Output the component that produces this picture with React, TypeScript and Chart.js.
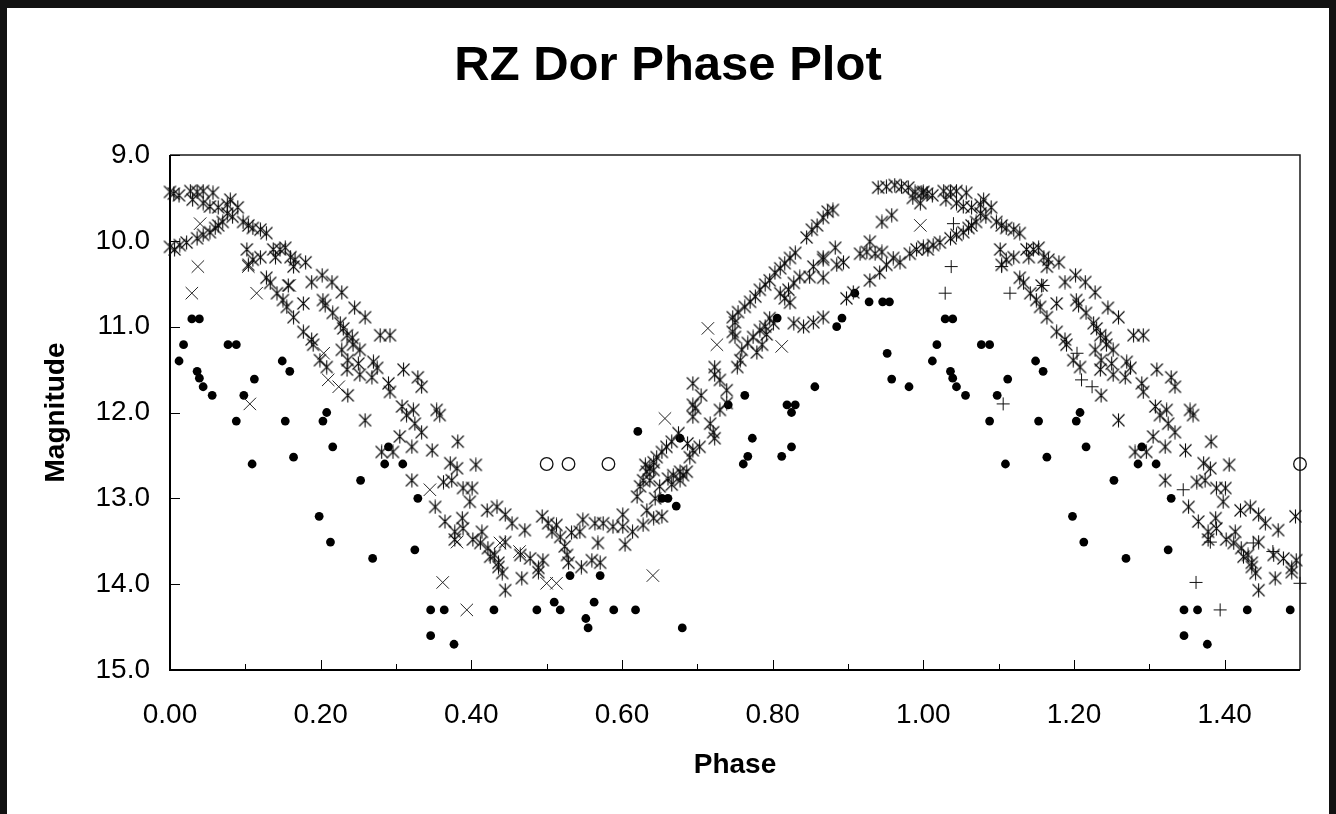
import React, { useEffect, useRef } from 'react';
import { Chart, registerables } from 'chart.js';

Chart.register(...registerables);

const FONT = '"Liberation Sans", Arial, Helvetica, sans-serif';

// ---------- Data (phase, magnitude) ----------
// Filled circles, phase 0..1
const dotsCycle: [number, number][] = [
  [0.012, 11.4], [0.018, 11.21], [0.029, 10.91], [0.039, 10.91], [0.036, 11.52], [0.039, 11.6],
  [0.044, 11.7], [0.056, 11.8], [0.077, 11.21], [0.088, 11.21], [0.098, 11.8], [0.088, 12.1],
  [0.109, 12.6], [0.112, 11.61], [0.149, 11.4], [0.153, 12.1], [0.159, 11.52], [0.164, 12.52],
  [0.198, 13.21], [0.203, 12.1], [0.208, 12.0], [0.213, 13.51], [0.216, 12.4], [0.253, 12.79],
  [0.269, 13.7], [0.285, 12.6], [0.29, 12.4], [0.309, 12.6], [0.325, 13.6], [0.329, 13.0],
  [0.346, 14.3], [0.346, 14.6], [0.364, 14.3], [0.377, 14.7], [0.43, 14.3], [0.487, 14.3],
  [0.51, 14.21], [0.518, 14.3], [0.531, 13.9], [0.552, 14.4], [0.555, 14.51], [0.563, 14.21],
  [0.571, 13.9], [0.589, 14.3], [0.618, 14.3], [0.621, 12.22], [0.653, 13.0], [0.661, 13.0],
  [0.672, 13.09], [0.677, 12.3], [0.68, 14.51], [0.741, 11.91], [0.761, 12.6], [0.763, 11.8],
  [0.767, 12.51], [0.773, 12.3], [0.806, 10.9], [0.812, 12.51], [0.819, 11.91], [0.825, 12.0],
  [0.825, 12.4], [0.83, 11.91], [0.856, 11.7], [0.885, 11.0], [0.892, 10.9], [0.909, 10.61],
  [0.928, 10.71], [0.946, 10.71], [0.952, 11.31], [0.955, 10.71], [0.958, 11.61], [0.981, 11.7],
];
// Filled circles, repeated phase 1..1.5
const dotsRepeat: [number, number][] = [
  [1.012, 11.4], [1.018, 11.21], [1.029, 10.91], [1.039, 10.91], [1.036, 11.52], [1.039, 11.6],
  [1.044, 11.7], [1.056, 11.8], [1.077, 11.21], [1.088, 11.21], [1.098, 11.8], [1.088, 12.1],
  [1.109, 12.6], [1.112, 11.61], [1.149, 11.4], [1.153, 12.1], [1.159, 11.52], [1.164, 12.52],
  [1.198, 13.21], [1.203, 12.1], [1.208, 12.0], [1.213, 13.51], [1.216, 12.4], [1.253, 12.79],
  [1.269, 13.7], [1.285, 12.6], [1.29, 12.4], [1.309, 12.6], [1.325, 13.6], [1.329, 13.0],
  [1.346, 14.3], [1.346, 14.6], [1.364, 14.3], [1.377, 14.7], [1.43, 14.3], [1.487, 14.3],
];

// Asterisks, phase 0..1
const starsCycle: [number, number][] = [
  [0.0, 9.43], [0.005, 9.45], [0.012, 9.47], [0.027, 9.42], [0.036, 9.43], [0.044, 9.42], [0.057, 9.44],
  [0.03, 9.52], [0.044, 9.56], [0.053, 9.6], [0.064, 9.61], [0.076, 9.58], [0.08, 9.52], [0.09, 9.61],
  [0.076, 9.68], [0.083, 9.72], [0.097, 9.78], [0.104, 9.82], [0.11, 9.85], [0.12, 9.87], [0.128, 9.91],
  [0.0, 10.07], [0.006, 10.1], [0.013, 10.05], [0.022, 10.02], [0.036, 9.97], [0.044, 9.93], [0.053, 9.9],
  [0.06, 9.85], [0.064, 9.82], [0.07, 9.78],
  [0.102, 10.1], [0.11, 10.22], [0.104, 10.28], [0.12, 10.19], [0.137, 10.1], [0.14, 10.19], [0.146, 10.1],
  [0.153, 10.08], [0.16, 10.19], [0.164, 10.3], [0.166, 10.22], [0.18, 10.25],
  [0.128, 10.43], [0.133, 10.49], [0.142, 10.61], [0.15, 10.69], [0.155, 10.77], [0.164, 10.89], [0.157, 10.52],
  [0.177, 10.73], [0.188, 10.48], [0.202, 10.4], [0.215, 10.48], [0.228, 10.6], [0.203, 10.69], [0.206, 10.75],
  [0.216, 10.84], [0.226, 10.96], [0.23, 11.02], [0.235, 11.1], [0.242, 11.13], [0.243, 11.21], [0.252, 11.27],
  [0.245, 10.78], [0.259, 10.89], [0.177, 11.06], [0.188, 11.15], [0.19, 11.21], [0.199, 11.39], [0.208, 11.47],
  [0.228, 11.27], [0.236, 11.39], [0.25, 11.43], [0.235, 11.5], [0.252, 11.56], [0.27, 11.41], [0.275, 11.48],
  [0.279, 11.1], [0.292, 11.1], [0.268, 11.59], [0.29, 11.66], [0.292, 11.76], [0.31, 11.5], [0.329, 11.59],
  [0.334, 11.7], [0.236, 11.8], [0.308, 11.93], [0.323, 11.97], [0.354, 11.97], [0.259, 12.09], [0.314, 12.03],
  [0.325, 12.13], [0.334, 12.23], [0.358, 12.03], [0.305, 12.28], [0.321, 12.4], [0.281, 12.46], [0.296, 12.46],
  [0.348, 12.44], [0.382, 12.34], [0.372, 12.59], [0.381, 12.65], [0.406, 12.61], [0.321, 12.79], [0.363, 12.81],
  [0.374, 12.79], [0.389, 12.88], [0.401, 12.88], [0.398, 13.04], [0.352, 13.1], [0.365, 13.27], [0.388, 13.23],
  [0.389, 13.35], [0.378, 13.39], [0.378, 13.48], [0.402, 13.48], [0.414, 13.39], [0.412, 13.52], [0.422, 13.58],
  [0.431, 13.66], [0.436, 13.75], [0.441, 13.87], [0.445, 14.07], [0.421, 13.14], [0.434, 13.1], [0.445, 13.19],
  [0.445, 13.51], [0.454, 13.29], [0.425, 13.68], [0.436, 13.8], [0.465, 13.66], [0.467, 13.93], [0.471, 13.37],
  [0.478, 13.7], [0.489, 13.81], [0.489, 13.86], [0.495, 13.72], [0.494, 13.21],
  [0.502, 13.29], [0.507, 13.39], [0.513, 13.31], [0.518, 13.45], [0.524, 13.56], [0.527, 13.66], [0.529, 13.75],
  [0.533, 13.4], [0.544, 13.39], [0.548, 13.25], [0.546, 13.8], [0.56, 13.72], [0.564, 13.29], [0.568, 13.52],
  [0.575, 13.29], [0.571, 13.75], [0.588, 13.33], [0.601, 13.19], [0.601, 13.33], [0.604, 13.54], [0.614, 13.39],
  [0.628, 13.31], [0.633, 13.14], [0.642, 13.23], [0.653, 13.21], [0.62, 12.98], [0.624, 12.86], [0.628, 12.79],
  [0.633, 12.69], [0.637, 12.65], [0.642, 12.58], [0.646, 12.52], [0.653, 12.46], [0.659, 12.4], [0.666, 12.34],
  [0.675, 12.24], [0.681, 12.73], [0.677, 12.79], [0.644, 13.0], [0.65, 12.86], [0.661, 12.77], [0.668, 12.73],
  [0.631, 12.61], [0.642, 12.67], [0.637, 12.79], [0.666, 12.84], [0.677, 12.69], [0.686, 12.69], [0.694, 12.44],
  [0.703, 12.4], [0.687, 12.36], [0.69, 12.52], [0.694, 12.05], [0.697, 11.95], [0.717, 12.13], [0.721, 12.23],
  [0.723, 12.3], [0.73, 11.97], [0.739, 11.89], [0.694, 11.66], [0.705, 11.8], [0.694, 11.91], [0.723, 11.47],
  [0.723, 11.56], [0.73, 11.62], [0.739, 11.74], [0.747, 11.06], [0.75, 11.12], [0.753, 11.47], [0.757, 11.39],
  [0.759, 11.27], [0.767, 11.19], [0.774, 11.12], [0.779, 11.3], [0.783, 11.04], [0.786, 11.21], [0.79, 11.0],
  [0.792, 11.09], [0.796, 10.9], [0.801, 10.96], [0.81, 10.61], [0.816, 10.67], [0.823, 10.72], [0.821, 10.57],
  [0.828, 10.49], [0.836, 10.42], [0.849, 10.42], [0.854, 10.3], [0.867, 10.19], [0.828, 10.96], [0.841, 11.0],
  [0.854, 10.95], [0.867, 10.89], [0.747, 10.89], [0.75, 10.95], [0.754, 10.83], [0.763, 10.77], [0.77, 10.71],
  [0.777, 10.65], [0.783, 10.57], [0.79, 10.51], [0.796, 10.46], [0.803, 10.37], [0.81, 10.32], [0.816, 10.26],
  [0.823, 10.2], [0.83, 10.14], [0.845, 9.96], [0.852, 9.87], [0.859, 9.82], [0.867, 9.73], [0.873, 9.66],
  [0.88, 9.64], [0.867, 10.22], [0.883, 10.08], [0.885, 10.28], [0.894, 10.25], [0.867, 10.43], [0.898, 10.67],
  [0.907, 10.6], [0.916, 10.15], [0.925, 10.13], [0.929, 10.01], [0.936, 10.15], [0.945, 10.13], [0.929, 10.46],
  [0.942, 10.37], [0.951, 10.28], [0.96, 10.2], [0.969, 10.25], [0.982, 10.15], [0.991, 10.1], [0.945, 9.78],
  [0.958, 9.7], [0.94, 9.38], [0.951, 9.37], [0.962, 9.35], [0.971, 9.37], [0.98, 9.38], [0.989, 9.43],
  [0.998, 9.44], [0.986, 9.5], [0.996, 9.56],
];
// Asterisks, repeated phase 1..1.5
const starsRepeat: [number, number][] = [
  [1.0, 9.43], [1.005, 9.45], [1.012, 9.47], [1.027, 9.42], [1.036, 9.43], [1.044, 9.42], [1.057, 9.44],
  [1.03, 9.52], [1.044, 9.56], [1.053, 9.6], [1.064, 9.61], [1.076, 9.58], [1.08, 9.52], [1.09, 9.61],
  [1.076, 9.68], [1.083, 9.72], [1.097, 9.78], [1.104, 9.82], [1.11, 9.85], [1.12, 9.87], [1.128, 9.91],
  [1.0, 10.07], [1.006, 10.1], [1.013, 10.05], [1.022, 10.02], [1.036, 9.97], [1.044, 9.93], [1.053, 9.9],
  [1.06, 9.85], [1.064, 9.82], [1.07, 9.78],
  [1.102, 10.1], [1.11, 10.22], [1.104, 10.28], [1.12, 10.19], [1.137, 10.1], [1.14, 10.19], [1.146, 10.1],
  [1.153, 10.08], [1.16, 10.19], [1.164, 10.3], [1.166, 10.22], [1.18, 10.25],
  [1.128, 10.43], [1.133, 10.49], [1.142, 10.61], [1.15, 10.69], [1.155, 10.77], [1.164, 10.89], [1.157, 10.52],
  [1.177, 10.73], [1.188, 10.48], [1.202, 10.4], [1.215, 10.48], [1.228, 10.6], [1.203, 10.69], [1.206, 10.75],
  [1.216, 10.84], [1.226, 10.96], [1.23, 11.02], [1.235, 11.1], [1.242, 11.13], [1.243, 11.21], [1.252, 11.27],
  [1.245, 10.78], [1.259, 10.89], [1.177, 11.06], [1.188, 11.15], [1.19, 11.21], [1.199, 11.39], [1.208, 11.47],
  [1.228, 11.27], [1.236, 11.39], [1.25, 11.43], [1.235, 11.5], [1.252, 11.56], [1.27, 11.41], [1.275, 11.48],
  [1.279, 11.1], [1.292, 11.1], [1.268, 11.59], [1.29, 11.66], [1.292, 11.76], [1.31, 11.5], [1.329, 11.59],
  [1.334, 11.7], [1.236, 11.8], [1.308, 11.93], [1.323, 11.97], [1.354, 11.97], [1.259, 12.09], [1.314, 12.03],
  [1.325, 12.13], [1.334, 12.23], [1.358, 12.03], [1.305, 12.28], [1.321, 12.4], [1.281, 12.46], [1.296, 12.46],
  [1.348, 12.44], [1.382, 12.34], [1.372, 12.59], [1.381, 12.65], [1.406, 12.61], [1.321, 12.79], [1.363, 12.81],
  [1.374, 12.79], [1.389, 12.88], [1.401, 12.88], [1.398, 13.04], [1.352, 13.1], [1.365, 13.27], [1.388, 13.23],
  [1.389, 13.35], [1.378, 13.39], [1.378, 13.48], [1.402, 13.48], [1.414, 13.39], [1.412, 13.52], [1.422, 13.58],
  [1.431, 13.66], [1.436, 13.75], [1.441, 13.87], [1.445, 14.07], [1.421, 13.14], [1.434, 13.1], [1.445, 13.19],
  [1.445, 13.51], [1.454, 13.29], [1.425, 13.68], [1.436, 13.8], [1.465, 13.66], [1.467, 13.93], [1.471, 13.37],
  [1.478, 13.7], [1.489, 13.81], [1.489, 13.86], [1.495, 13.72], [1.494, 13.21],
];

// Diagonal crosses, phase 0..1
const crossesCycle: [number, number][] = [
  [0.04, 9.8], [0.037, 10.3], [0.029, 10.61], [0.104, 10.3], [0.115, 10.61], [0.159, 10.52], [0.106, 11.9],
  [0.204, 11.31], [0.21, 11.62], [0.224, 11.7], [0.345, 12.9], [0.362, 13.98], [0.381, 13.51], [0.394, 14.3],
  [0.438, 13.52], [0.464, 13.62], [0.5, 13.99], [0.513, 13.99], [0.641, 13.9], [0.657, 12.07], [0.714, 11.02],
  [0.726, 11.21], [0.812, 11.23], [0.996, 9.82],
];
// Plus signs, repeated phase 1..1.5
const plusRepeat: [number, number][] = [
  [1.04, 9.8], [1.037, 10.3], [1.029, 10.61], [1.104, 10.3], [1.115, 10.61], [1.159, 10.52], [1.106, 11.9],
  [1.204, 11.31], [1.21, 11.62], [1.224, 11.7], [1.345, 12.9], [1.362, 13.98], [1.381, 13.51], [1.394, 14.3],
  [1.438, 13.52], [1.464, 13.62], [1.5, 13.99],
];
// Open circles
const openCycle: [number, number][] = [[0.5, 12.6], [0.529, 12.6], [0.582, 12.6]];
const openRepeat: [number, number][] = [[1.5, 12.6]];

// Axis ticks
const xMajorTicks = [0, 0.2, 0.4, 0.6, 0.8, 1.0, 1.2, 1.4];
const xMinorTicks = [0.1, 0.3, 0.5, 0.7, 0.9, 1.1, 1.3];
const yTicks = [9, 10, 11, 12, 13, 14, 15];

const toXY = (arr: [number, number][]) => arr.map(([x, y]) => ({ x, y }));

function makeAsterisk(): HTMLCanvasElement {
  const c = document.createElement('canvas');
  c.width = 15;
  c.height = 15;
  const g = c.getContext('2d')!;
  g.strokeStyle = '#0a0a0a';
  g.lineWidth = 1.1;
  g.beginPath();
  g.moveTo(1.5, 1.5); g.lineTo(13.5, 13.5);
  g.moveTo(13.5, 1.5); g.lineTo(1.5, 13.5);
  g.moveTo(7.5, 0.5); g.lineTo(7.5, 14.5);
  g.stroke();
  return c;
}

const framePlugin = {
  id: 'frame',
  beforeDatasetsDraw(chart: any) {
    const { ctx, chartArea: a, scales } = chart;
    const xs = scales.x;
    const ys = scales.y;
    ctx.save();
    ctx.strokeStyle = '#1a1a1a';
    ctx.lineWidth = 1.5;
    ctx.beginPath();
    ctx.moveTo(a.left, a.top);
    ctx.lineTo(a.right, a.top);
    ctx.lineTo(a.right, a.bottom);
    ctx.stroke();
    ctx.strokeStyle = '#000';
    ctx.lineWidth = 2;
    ctx.beginPath();
    ctx.moveTo(a.left, a.top);
    ctx.lineTo(a.left, a.bottom);
    ctx.lineTo(a.right, a.bottom);
    ctx.stroke();
    ctx.lineWidth = 1;
    ctx.beginPath();
    for (const v of yTicks) {
      const py = Math.round(ys.getPixelForValue(v)) + 0.5;
      ctx.moveTo(a.left, py);
      ctx.lineTo(a.left + 10, py);
    }
    for (const v of xMajorTicks) {
      const px = Math.round(xs.getPixelForValue(v)) + 0.5;
      ctx.moveTo(px, a.bottom);
      ctx.lineTo(px, a.bottom - 10);
    }
    for (const v of xMinorTicks) {
      const px = Math.round(xs.getPixelForValue(v)) + 0.5;
      ctx.moveTo(px, a.bottom);
      ctx.lineTo(px, a.bottom - 6);
    }
    ctx.stroke();
    ctx.restore();
  },
};

export default function App() {
  const ref = useRef<HTMLCanvasElement | null>(null);

  useEffect(() => {
    if (!ref.current) return;
    const asterisk = makeAsterisk();
    const common = { showLine: false, clip: false as any };
    const chart = new Chart(ref.current, {
      type: 'scatter',
      data: {
        datasets: [
          {
            label: 'Asterisks', data: toXY(starsCycle), pointStyle: asterisk as any, pointRadius: 6,
            ...common,
          },
          {
            label: 'Asterisks (repeat)', data: toXY(starsRepeat), pointStyle: asterisk as any, pointRadius: 6,
            ...common,
          },
          {
            label: 'Crosses', data: toXY(crossesCycle), pointStyle: 'crossRot', pointRadius: 8.8,
            pointBorderColor: '#222', pointBorderWidth: 1, ...common,
          },
          {
            label: 'Plus', data: toXY(plusRepeat), pointStyle: 'cross', pointRadius: 6.5,
            pointBorderColor: '#111', pointBorderWidth: 1, ...common,
          },
          {
            label: 'Dots', data: toXY(dotsCycle), pointStyle: 'circle', pointRadius: 4.4,
            pointBackgroundColor: '#000', pointBorderColor: '#000', pointBorderWidth: 0, ...common,
          },
          {
            label: 'Dots (repeat)', data: toXY(dotsRepeat), pointStyle: 'circle', pointRadius: 4.4,
            pointBackgroundColor: '#000', pointBorderColor: '#000', pointBorderWidth: 0, ...common,
          },
          {
            label: 'Open', data: toXY(openCycle), pointStyle: 'circle', pointRadius: 6.3,
            pointBackgroundColor: 'rgba(255,255,255,0)', pointBorderColor: '#111', pointBorderWidth: 1.3, ...common,
          },
          {
            label: 'Open (repeat)', data: toXY(openRepeat), pointStyle: 'circle', pointRadius: 6.3,
            pointBackgroundColor: 'rgba(255,255,255,0)', pointBorderColor: '#111', pointBorderWidth: 1.3, ...common,
          },
        ],
      },
      options: {
        responsive: false,
        animation: false,
        devicePixelRatio: 1,
        events: [],
        layout: { padding: { left: 0, right: 0, top: 0, bottom: 0 } },
        plugins: {
          legend: { display: false },
          tooltip: { enabled: false },
          title: {
            display: true,
            text: 'RZ Dor Phase Plot',
            color: '#000',
            font: { family: FONT, size: 49, weight: 'bold' },
            padding: { top: 36.6, bottom: 59.6 },
          },
        },
        scales: {
          x: {
            type: 'linear',
            min: 0,
            max: 1.5,
            grid: { display: false, drawTicks: false },
            border: { display: false },
            ticks: {
              stepSize: 0.2,
              includeBounds: false,
              autoSkip: false,
              maxRotation: 0,
              padding: 28,
              color: '#000',
              font: { family: FONT, size: 28 },
              callback: (v: any) => Number(v).toFixed(2),
            },
            title: {
              display: true,
              text: 'Phase',
              color: '#000',
              font: { family: FONT, size: 28, weight: 'bold' },
              padding: { top: 0, bottom: 32 },
            },
            afterFit: (s: any) => { s.height = 144; },
          },
          y: {
            type: 'linear',
            min: 9,
            max: 15,
            reverse: true,
            position: 'left',
            grid: { display: false, drawTicks: false },
            border: { display: false },
            ticks: {
              stepSize: 1,
              padding: 20,
              color: '#000',
              font: { family: FONT, size: 28 },
              callback: (v: any) => Number(v).toFixed(1),
            },
            title: {
              display: true,
              text: 'Magnitude',
              color: '#000',
              font: { family: FONT, size: 28, weight: 'bold' },
              padding: { top: 39, bottom: 0 },
            },
            afterFit: (s: any) => { s.width = 170; },
          },
          yR: {
            type: 'linear',
            position: 'right',
            display: true,
            grid: { display: false, drawTicks: false },
            border: { display: false },
            ticks: { display: false },
            afterFit: (s: any) => { s.width = 36; },
          },
        },
      } as any,
      plugins: [framePlugin],
    });
    return () => chart.destroy();
  }, []);

  return (
    <div style={{ position: 'fixed', left: 0, top: 0, width: 1336, height: 814, background: '#121212', overflow: 'hidden' }}>
      <div style={{ position: 'absolute', left: 7, top: 8, width: 1322, height: 806, background: '#fff' }} />
      <canvas ref={ref} width={1336} height={814} style={{ position: 'absolute', left: 0, top: 0, display: 'block' }} />
    </div>
  );
}
